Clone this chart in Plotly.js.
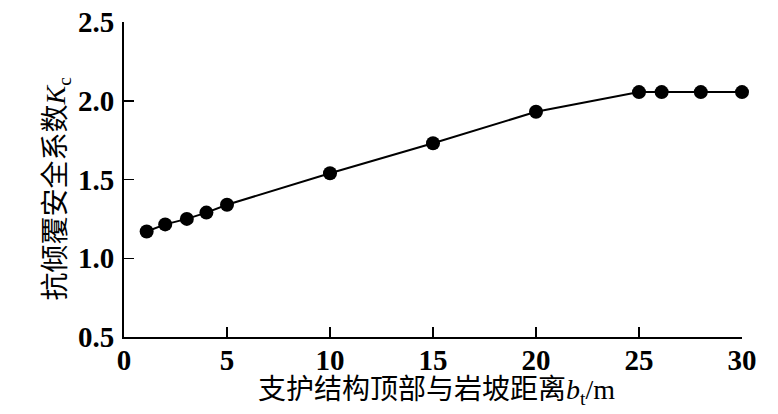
<!DOCTYPE html>
<html>
<head>
<meta charset="utf-8">
<script src="https://cdn.plot.ly/plotly-3.0.1.min.js"></script>
<style>
html,body{margin:0;padding:0;background:#fff;}
#chart{width:778px;height:414px;}
</style>
</head>
<body>
<div id="chart"></div>
<script>
// distance between top of support structure and rock slope, b_t (m)
const distance = [1.1, 2.0, 3.05, 4.0, 5.0, 10, 15, 20, 25, 26.1, 28, 30];
// anti-overturning safety factor K_c
const safetyFactor = [1.17, 1.215, 1.25, 1.29, 1.34, 1.54, 1.73, 1.93, 2.055, 2.055, 2.055, 2.055];
const xTicks = [0, 5, 10, 15, 20, 25, 30];
const yTicks = [0.5, 1.0, 1.5, 2.0, 2.5];
const yTickText = ["0.5", "1.0", "1.5", "2.0", "2.5"];
const xTitle = '支护结构顶部与岩坡距离<i>b</i><sub>t</sub>/m';
const yTitle = '抗倾覆安全系数<i>K</i><sub>c</sub>';

const fontFam = 'Liberation Serif, Noto Sans CJK SC, serif';

const trace = {
  x: distance,
  y: safetyFactor,
  type: 'scatter',
  mode: 'lines+markers',
  line: {color: '#000', width: 2},
  marker: {color: '#000', size: 14},
  showlegend: false,
  cliponaxis: false
};

const layout = {
  width: 778,
  height: 414,
  margin: {l: 124, r: 36, t: 22, b: 77},
  paper_bgcolor: '#fff',
  plot_bgcolor: '#fff',
  font: {family: fontFam, color: '#000', size: 28},
  xaxis: {
    range: [0, 30],
    tickvals: xTicks,
    ticktext: xTicks.map(String),
    ticks: 'inside',
    ticklen: 10,
    tickwidth: 1.5,
    tickcolor: '#000',
    showline: true,
    linecolor: '#000',
    linewidth: 2,
    showgrid: false,
    zeroline: false,
    ticklabelstandoff: -4,
    tickfont: {family: fontFam, size: 29, color: '#000', weight: 'bold'},
    automargin: false
  },
  yaxis: {
    range: [0.5, 2.5],
    tickvals: yTicks,
    ticktext: yTickText,
    ticks: 'inside',
    ticklen: 10,
    tickwidth: 1.5,
    tickcolor: '#000',
    showline: true,
    linecolor: '#000',
    linewidth: 2,
    showgrid: false,
    zeroline: false,
    ticklabelstandoff: 2,
    tickfont: {family: fontFam, size: 29, color: '#000', weight: 'bold'},
    automargin: false
  },
  annotations: [{
    text: yTitle,
    xref: 'paper', yref: 'paper',
    x: -0.108, y: 0.472,
    xanchor: 'center', yanchor: 'middle',
    textangle: -90,
    showarrow: false,
    font: {family: fontFam, size: 28, color: '#000'}
  }, {
    text: xTitle,
    xref: 'paper', yref: 'paper',
    x: 0.505, y: -0.172,
    xanchor: 'center', yanchor: 'middle',
    showarrow: false,
    font: {family: fontFam, size: 28, color: '#000'}
  }]
};

Plotly.newPlot('chart', [trace], layout, {displayModeBar: false, staticPlot: true});
</script>
</body>
</html>
